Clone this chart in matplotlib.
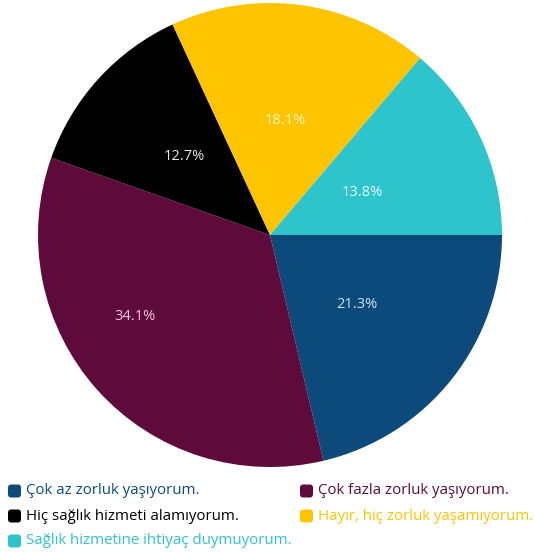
import numpy as np
import matplotlib
matplotlib.use("Agg")
import matplotlib.pyplot as plt
from matplotlib.patches import FancyBboxPatch

# --------------------------------------------------------------------------- #
# Data
# --------------------------------------------------------------------------- #
labels = [
    "Çok az zorluk yaşıyorum.",
    "Çok fazla zorluk yaşıyorum.",
    "Hiç sağlık hizmeti alamıyorum.",
    "Hayır, hiç zorluk yaşamıyorum.",
    "Sağlık hizmetine ihtiyaç duymuyorum.",
]
shares = [21.3, 34.1, 12.7, 18.1, 13.8]
colors = ["#0B4A7B", "#5E0A3B", "#000000", "#FFC400", "#2EC4CB"]
pct_colors = ["#CFE3F5", "#F2C6DE", "#E6E6E6", "#FFF3C9", "#E3FAFB"]

plt.rcParams["font.family"] = ["Open Sans", "DejaVu Sans"]

fig = plt.figure(figsize=(5.34, 5.59), dpi=100)
ax = fig.add_axes([38 / 534, 1 - 467 / 559, 464 / 534, 464 / 559])

wedges, _ = ax.pie(shares, colors=colors, startangle=0, counterclock=False,
                   wedgeprops=dict(linewidth=0))
ax.set_xlim(-1, 1)
ax.set_ylim(-1, 1)
ax.set_aspect("equal")

# percentage labels, placed per wedge
radius = [0.48, 0.68, 0.50, 0.50, 0.44]
shift = [0, -11, 0, 0, 0]
for w, v, r, s, c in zip(wedges, shares, radius, shift, pct_colors):
    mid = np.deg2rad((w.theta1 + w.theta2) / 2 + s)
    ax.text(r * np.cos(mid), r * np.sin(mid), f"{v}%", ha="center", va="center",
            color=c, fontsize=10.5)

# legend drawn by hand, two columns, row-major
rows_y = [491, 516, 541]
cols_x = [8, 300]
for i, (lab, col) in enumerate(zip(labels, colors)):
    x = cols_x[i % 2]
    y = rows_y[i // 2]
    fig.patches.append(FancyBboxPatch(
        (x / 534, 1 - (y + 6.5) / 559), 13 / 534, 13 / 559,
        boxstyle="round,pad=0,rounding_size=0.006", transform=fig.transFigure,
        facecolor=col, edgecolor="none"))
    fig.text((x + 18) / 534, 1 - y / 559, lab, color=col, fontsize=10.8,
             va="center", ha="left")

fig.savefig("out.png", dpi=100, facecolor="white")
